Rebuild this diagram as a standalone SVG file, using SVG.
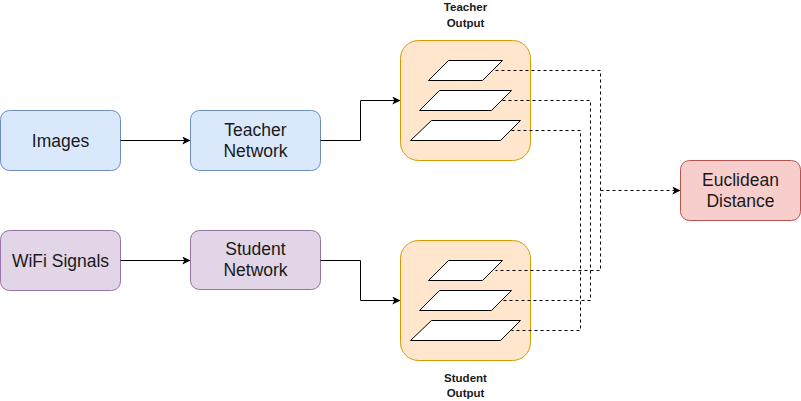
<svg xmlns="http://www.w3.org/2000/svg" width="801" height="401" viewBox="0 0 801 401">
<defs>
<marker id="arr" viewBox="0 0 10 10" refX="9" refY="5" markerWidth="8" markerHeight="8" markerUnits="userSpaceOnUse" orient="auto">
<path d="M0,0 L10,5 L0,10 L2.5,5 Z" fill="#000"/>
</marker>
</defs>
<style>
.lbl{font-family:"Liberation Sans",Arial,sans-serif;font-size:17.5px;fill:#1a1a1a;text-anchor:middle}
.cap{font-family:"Liberation Sans",Arial,sans-serif;font-size:11.5px;font-weight:bold;fill:#1a1a1a;text-anchor:middle}
.blue{fill:#dae8fc;stroke:#6c8ebf;stroke-width:1}
.purple{fill:#e1d5e7;stroke:#9673a6;stroke-width:1}
.orange{fill:#ffe6cc;stroke:#d79b00;stroke-width:1}
.red{fill:#f8cecc;stroke:#b85450;stroke-width:1}
.para{fill:#fff;stroke:#000;stroke-width:1}
.edge{fill:none;stroke:#000;stroke-width:1}
.dash{fill:none;stroke:#000;stroke-width:1;stroke-dasharray:3 3}
</style>
<g id="images">
<rect class="blue" x="0.5" y="110.5" width="120" height="60" rx="9"/>
<text class="lbl" x="60.5" y="146.5">Images</text>
</g>
<g id="teacher-network">
<rect class="blue" x="190.5" y="110.5" width="130" height="60" rx="9"/>
<text class="lbl" x="255.5" y="135.5">Teacher</text>
<text class="lbl" x="255.5" y="157">Network</text>
</g>
<g id="wifi-signals">
<rect class="purple" x="0.5" y="230.5" width="120" height="60" rx="9"/>
<text class="lbl" x="60.5" y="266.5">WiFi Signals</text>
</g>
<g id="student-network">
<rect class="purple" x="190.5" y="230.5" width="130" height="59" rx="9"/>
<text class="lbl" x="255.5" y="254.5">Student</text>
<text class="lbl" x="255.5" y="276">Network</text>
</g>
<g id="teacher-output">
<rect class="orange" x="400.5" y="40.5" width="130" height="120" rx="18"/>
<path class="para" d="M428.5,80.5 L448.5,60.5 L502.5,60.5 L482.5,80.5 Z"/>
<path class="para" d="M419.5,110.5 L439.5,90.5 L511.5,90.5 L491.5,110.5 Z"/>
<path class="para" d="M410.5,140.5 L431.5,120.5 L520.5,120.5 L500.5,140.5 Z"/>
<text class="cap" x="465.5" y="11">Teacher</text>
<text class="cap" x="465.5" y="27">Output</text>
</g>
<g id="student-output">
<rect class="orange" x="400.5" y="240.5" width="130" height="120" rx="18"/>
<path class="para" d="M428.5,280.5 L448.5,260.5 L502.5,260.5 L482.5,280.5 Z"/>
<path class="para" d="M419.5,310.5 L439.5,290.5 L511.5,290.5 L491.5,310.5 Z"/>
<path class="para" d="M410.5,340.5 L431.5,320.5 L520.5,320.5 L500.5,340.5 Z"/>
<text class="cap" x="465.5" y="381.5">Student</text>
<text class="cap" x="465.5" y="397">Output</text>
</g>
<g id="euclidean-distance">
<rect class="red" x="680.5" y="160.5" width="120" height="60" rx="9"/>
<text class="lbl" x="740.5" y="185.5">Euclidean</text>
<text class="lbl" x="740.5" y="207">Distance</text>
</g>
<g id="connectors">
<path class="edge" d="M120.5,140.5 L189.5,140.5" marker-end="url(#arr)"/>
<path class="edge" d="M120.5,260.5 L189.5,260.5" marker-end="url(#arr)"/>
<path class="edge" d="M320.5,140.5 L360.5,140.5 L360.5,100.5 L399.5,100.5" marker-end="url(#arr)"/>
<path class="edge" d="M320.5,260.5 L360.5,260.5 L360.5,300.5 L399.5,300.5" marker-end="url(#arr)"/>
<path class="dash" d="M495.5,70.5 L600.5,70.5 L600.5,270.5 L495.5,270.5"/>
<path class="dash" d="M502.5,100.5 L590.5,100.5 L590.5,300.5 L502.5,300.5"/>
<path class="dash" d="M511.5,130.5 L580.5,130.5 L580.5,330.5 L511.5,330.5"/>
<path class="dash" d="M600.5,190.5 L679.5,190.5" marker-end="url(#arr)"/>
</g>
</svg>
